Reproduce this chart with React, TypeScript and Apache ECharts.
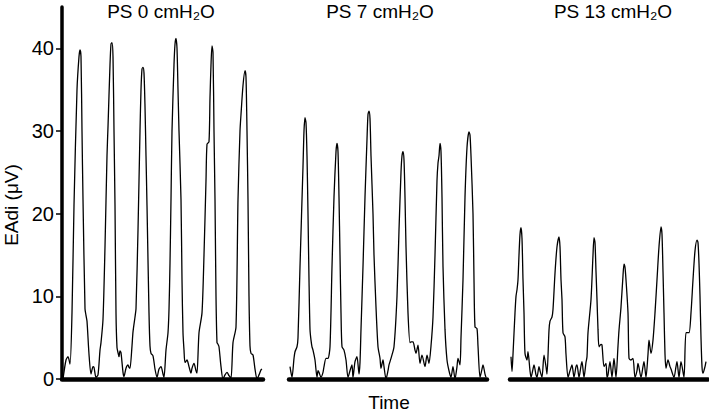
import React, { useEffect, useRef } from "react";
import * as echarts from "echarts";

// Time (arbitrary units) and EAdi (µV) samples read from each recording
const ps0Trace: [number, number][] = [
  [1,0],[4,2.3],[6,2.7],[8,1.8],[10,8],[12,21],[15,35],[17,39],[18,39.8],[19,39],[20,30],[21,21.7],[23,8.5],[24,7.7],[25,7.0],[27,3],[29,0.6],[31,1.5],[32,1.4],[34,0.2],[36,0.5],[38,3.5],[39,4.4],[41,7.2],[43,16],[45,27],[46,30.5],[48,38],[49,40.5],[50,40.7],[51,39],[52,30],[53,21],[54,8],[55,3.8],[56,3.2],[57,2.7],[58,3.4],[59,3.2],[61,0.8],[62,0.3],[64,1.3],[66,1.7],[67,1.4],[68,1.3],[70,4],[71,5.7],[73,7.5],[74,8.5],[76,18],[78,30],[79,35],[80,37.5],[81,37.7],[82,37],[83,33],[84,27],[85,21],[87,8],[88,4],[89,3.1],[91,2.8],[93,1.2],[95,0.2],[97,1.2],[99,1.5],[101,0.6],[102,0.2],[104,3.5],[106,5.6],[107,8.4],[108,14],[109,21.7],[110,30],[112,38],[113,40.5],[114,41.2],[115,40],[116,35],[117,30],[119,21.7],[120,12],[121,5.6],[122,3.5],[123,2],[125,2.3],[127,1.5],[129,0.7],[130,1.3],[132,1.9],[134,1],[135,0.7],[137,5.6],[140,8],[142,15],[144,24],[145,28.4],[147,28.7],[148,34],[149,38],[150,40.3],[151,39.5],[152,30],[153,21.7],[154,10],[155,4.4],[156,4.2],[157,3.9],[159,1.5],[161,0],[163,0.5],[165,0.8],[167,0.4],[169,0.1],[171,4.4],[174,6.3],[176,21.7],[178,30],[179,32],[181,35.5],[183,37.3],[184,36.5],[185,30],[186,21.7],[187,10],[188,4],[189,3.1],[191,2.9],[193,1.2],[195,0],[197,0.5],[199,1.1],[200,1.2]
];

const ps7Trace: [number, number][] = [
  [1,1.5],[3,0.2],[5,2.5],[6,3.3],[8,3.9],[9,5],[11,13.6],[14,25.7],[15,30],[16,31.6],[17,31],[18,27],[19,20],[20,12],[21,6],[22,4.7],[23,3.9],[24,3.5],[26,2.3],[28,0.2],[29,1],[30,0.8],[32,0.2],[34,0.8],[35,1.5],[37,2.5],[39,2.5],[41,3.9],[43,13.6],[45,22],[47,27.5],[48,28.5],[49,27.5],[50,22],[51,15],[52,8],[53,3.9],[55,3.5],[57,2.3],[59,0.2],[61,1],[63,1.7],[64,0.2],[66,2.1],[68,2.7],[70,0.6],[71,2],[72,6],[74,13.6],[76,22],[78,29],[79,32],[80,32.4],[81,31.5],[82,27],[84,20],[85,15],[87,8.7],[89,3.9],[91,2.5],[92,1.3],[94,2.3],[95,1.5],[97,0],[99,1],[100,1.7],[102,2.5],[105,3.9],[108,10],[110,18],[112,25],[113,27],[114,27.5],[115,26.5],[116,22],[117,16],[119,8],[121,4.4],[122,4.5],[124,4.5],[126,3.5],[127,3.1],[129,4.1],[131,1.9],[133,2.9],[136,1.5],[138,2.9],[140,1.9],[142,4],[144,7.5],[146,15],[148,24],[149,26.1],[150,27],[151,28.5],[152,27.5],[153,22],[154,13.6],[156,6],[158,2.3],[160,1],[162,0.2],[164,1.5],[166,0],[168,1.5],[169,2.5],[171,1.7],[172,5],[174,12],[176,22],[178,28],[180,29.9],[181,29.5],[182,27],[184,20],[185,12],[186,6.3],[188,6.1],[189,4],[191,0.2],[193,1.2],[194,1.7],[196,0.6],[197,0.2]
];

const ps13Trace: [number, number][] = [
  [1,2.7],[2,0.9],[3,3],[5,8],[6,10],[7,10.8],[8,12],[9,15],[10,17.5],[11,18.3],[12,17],[13,12],[14,8],[15,3.1],[17,2.3],[18,3.3],[20,1],[21,0.2],[23,1.2],[24,1.7],[26,0.5],[27,0.2],[29,1.5],[30,1],[32,0.2],[34,2.9],[36,1.5],[37,0.6],[39,5.9],[40,7],[42,7.5],[43,8.4],[45,12.8],[47,16],[49,17.2],[50,16],[51,12],[52,9.6],[53,5.6],[55,5.1],[56,3],[58,0.2],[60,1],[62,1.7],[64,0.2],[66,1.5],[67,1.7],[69,0.2],[71,1.6],[72,2.1],[74,0.2],[76,2],[77,2.7],[78,5.6],[81,9.6],[83,15],[84,17.1],[85,16.5],[86,13],[87,9.6],[88,6],[89,3.9],[91,4.2],[92,4.1],[94,1.5],[96,1.9],[97,0.2],[98,0.5],[100,2.1],[102,0.2],[104,2.5],[106,0.2],[108,4],[109,5.9],[111,8.7],[113,12.5],[114,13.9],[115,13.5],[116,12],[118,8],[119,2.5],[121,2.3],[123,2.5],[125,0.2],[127,1],[128,1.9],[131,0.2],[133,1.5],[134,2.1],[136,0.2],[138,3],[139,4.7],[141,3.1],[143,4.7],[145,8],[147,12],[149,16],[151,18.4],[152,17.5],[153,13],[154,8],[155,3],[156,1.3],[158,2.3],[160,1.5],[161,1.2],[164,0.2],[166,1.5],[167,2.1],[169,0.2],[171,2.1],[174,0.2],[176,5.6],[179,5.6],[181,8],[183,12],[185,15.5],[187,16.8],[188,16.5],[189,14],[190,10],[191,5],[192,1.5],[193,0.7],[195,1.5],[196,2.1]
];

const panelTitles = ["PS 0 cmH\u2082O", "PS 7 cmH\u2082O", "PS 13 cmH\u2082O"];
const panelDurations = [201, 198, 198];
const yTickValues = [0, 10, 20, 30, 40];
const yMax = 45;
const yAxisTitle = "EAdi (\u03bcV)";
const xAxisTitle = "Time";

const FONT = "Liberation Sans, Arial, sans-serif";

export default function App() {
  const ref = useRef<HTMLDivElement>(null);
  useEffect(() => {
    if (!ref.current) return;
    const chart = echarts.init(ref.current, null, { renderer: "svg" });
    const traces = [ps0Trace, ps7Trace, ps13Trace];
    const lefts = [62, 289, 510];
    const grids = lefts.map((l, i) => ({ left: l, top: 7, width: panelDurations[i], height: 372 }));
    const titleCenters = [161, 380, 613];
    const option: any = {
      animation: false,
      grid: grids,
      xAxis: traces.map((_, i) => ({
        type: "value",
        gridIndex: i,
        min: 0,
        max: panelDurations[i],
        offset: 2,
        axisLine: { show: true, lineStyle: { color: "#000", width: 4.5 } },
        axisTick: { show: false },
        axisLabel: { show: false },
        splitLine: { show: false },
      })),
      yAxis: traces.map((_, i) => ({
        type: "value",
        gridIndex: i,
        min: 0,
        max: yMax,
        interval: 10,
        show: i === 0,
        axisLine: { show: i === 0, lineStyle: { color: "#000", width: 3.5 } },
        axisTick: { show: i === 0, length: 6, lineStyle: { color: "#000", width: 1.5 }, customValues: yTickValues },
        axisLabel: { show: i === 0, color: "#000", fontSize: 20, fontFamily: FONT, margin: 8, customValues: yTickValues },
        splitLine: { show: false },
      })),
      series: traces.map((d, i) => ({
        type: "line",
        xAxisIndex: i,
        yAxisIndex: i,
        data: d,
        symbol: "none",
        smooth: 0.25,
        lineStyle: { color: "#000", width: 1.3 },
      })),
      graphic: [
        ...panelTitles.map((t, i) => ({
          type: "text",
          x: titleCenters[i],
          y: 11,
          style: { text: t, fill: "#000", font: `19px ${FONT}`, textAlign: "center", textVerticalAlign: "middle" },
        })),
        {
          type: "text",
          x: 389,
          y: 402,
          style: { text: xAxisTitle, fill: "#000", font: `19px ${FONT}`, textAlign: "center", textVerticalAlign: "middle" },
        },
        {
          type: "text",
          x: 11,
          y: 205,
          rotation: Math.PI / 2,
          style: { text: yAxisTitle, fill: "#000", font: `19px ${FONT}`, textAlign: "center", textVerticalAlign: "middle" },
        },
      ],
    };
    chart.setOption(option);
    return () => chart.dispose();
  }, []);
  return <div ref={ref} style={{ width: 709, height: 412, position: "absolute", left: 0, top: 0 }} />;
}
